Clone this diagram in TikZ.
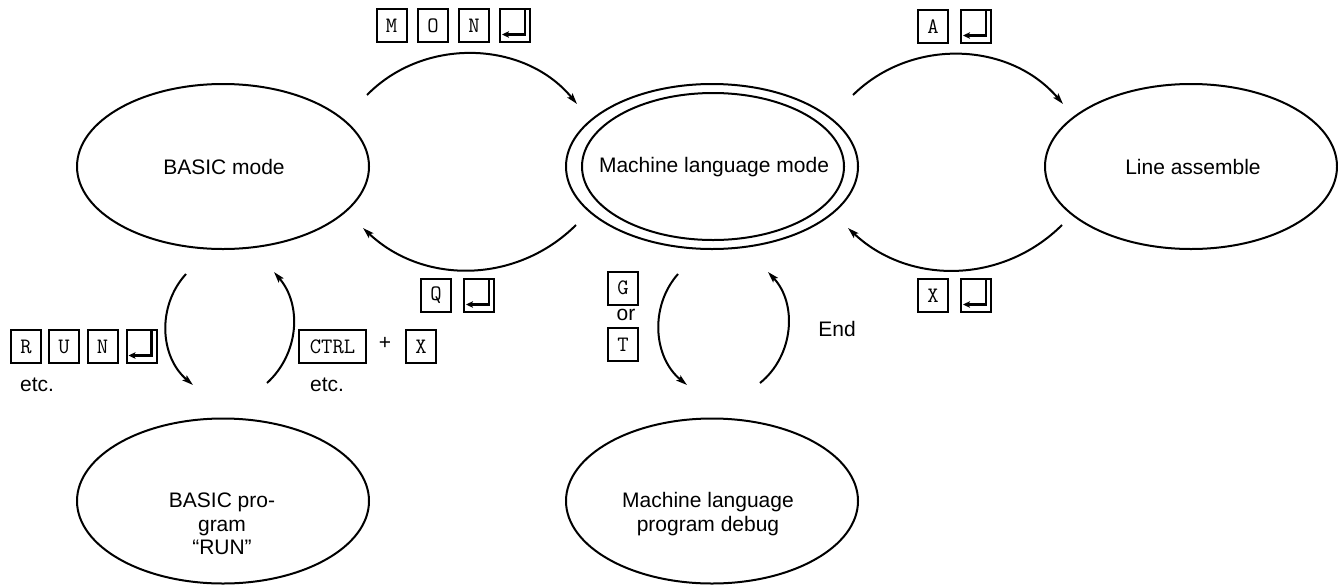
\documentclass[tikz,border=0pt]{standalone}
\usepackage{fontspec}
\setmainfont{Liberation Sans}
\usetikzlibrary{shapes.geometric,arrows.meta}
\tikzset{
  state/.style={ellipse, draw, line width=2pt, minimum width=292pt, minimum height=165pt, inner sep=0pt},
  inner state/.style={ellipse, draw, line width=2pt, minimum width=262pt, minimum height=147pt, inner sep=0pt},
  txt/.style={font=\fontsize{21}{23.5}\selectfont, align=center, inner sep=0pt},
  conn/.style={line width=2pt, -{Stealth[length=11pt,width=6.5pt,inset=2pt]}},
  keybox/.style={draw, line width=2pt, minimum width=30pt, minimum height=33pt, inner sep=0pt,
     font=\ttfamily\fontsize{22}{22}\selectfont},
  widekey/.style={keybox, minimum width=67pt},
  retkey/.style={keybox, path picture={
     \draw[line width=2.2pt, -{Stealth[length=7pt,width=6.5pt,inset=1.5pt]}]
       ([xshift=-5pt]path picture bounding box.north east)
       -- ([xshift=-5pt,yshift=7.5pt]path picture bounding box.south east)
       -- ([xshift=2pt,yshift=7.5pt]path picture bounding box.south west);}}
}
\begin{document}
\begin{tikzpicture}[x=1pt,y=1pt]
\useasboundingbox (0,0) rectangle (1338,-584);
% states
\node[state] (basic) at (223,-166.5) {};
\node[txt] (basictxt) at (224,-167) {BASIC mode};
\node[state] (ml) at (712,-166.5) {};
\node[inner state] (mlin) at (713,-166.5) {};
\node[txt] (mltxt) at (714,-167) {Machine language mode};
\node[state] (la) at (1191,-166.5) {};
\node[txt] (latxt) at (1193,-167) {Line assemble};
\node[state] (bp) at (223,-501) {};
\node[txt] (bptxt) at (222,-524) {BASIC pro-\\gram\\“RUN”};
\node[state] (dbg) at (712,-501) {};
\node[txt] (dbgtxt) at (708,-514) {Machine language\\program debug};
% connector endpoints
\coordinate (mon-s) at (367,-95);  \coordinate (mon-e) at (577,-104);
\coordinate (q-s) at (576,-225);   \coordinate (q-e) at (363,-228);
\coordinate (a-s) at (853,-95);    \coordinate (a-e) at (1063,-104);
\coordinate (x-s) at (1062,-225);  \coordinate (x-e) at (848,-228);
\coordinate (run-s) at (186,-274); \coordinate (run-e) at (193,-385);
\coordinate (ctl-s) at (267,-383); \coordinate (ctl-e) at (274,-272);
\coordinate (g-s) at (678,-274);   \coordinate (g-e) at (687,-385);
\coordinate (end-s) at (760,-383); \coordinate (end-e) at (768,-272);
% connectors
\draw[conn] (mon-s) to[bend left=48] (mon-e);
\draw[conn] (q-s) to[bend left=44] (q-e);
\draw[conn] (a-s) to[bend left=47] (a-e);
\draw[conn] (x-s) to[bend left=44] (x-e);
\draw[conn] (run-s) to[bend right=46] (run-e);
\draw[conn] (ctl-s) to[bend right=44] (ctl-e);
\draw[conn] (g-s) to[bend right=46] (g-e);
\draw[conn] (end-s) to[bend right=47] (end-e);
% keys: MON
\node[keybox] (kM) at (391.5,-25.5) {M};
\node[keybox] (kO) at (433,-25.5) {O};
\node[keybox] (kN) at (474,-25.5) {N};
\node[retkey] (kR1) at (515,-25.5) {};
% A
\node[keybox] (kA) at (933,-26.5) {A};
\node[retkey] (kR2) at (976,-26.5) {};
% X
\node[keybox] (kX) at (933,-295.5) {X};
\node[retkey] (kR3) at (976,-295.5) {};
% Q
\node[keybox] (kQ) at (436,-295.5) {Q};
\node[retkey] (kR4) at (479,-295.5) {};
% RUN
\node[keybox] (kRr) at (26,-346.5) {R};
\node[keybox] (kU) at (64,-346.5) {U};
\node[keybox] (kN2) at (102.5,-346.5) {N};
\node[retkey] (kR5) at (141.5,-346.5) {};
\node[txt] (etc1) at (37,-385) {etc.};
% CTRL + X
\node[widekey] (kC) at (332.5,-346.5) {CTRL};
\node[txt] (plus) at (385,-343) {+};
\node[keybox] (kX2) at (421,-346.5) {X};
\node[txt] (etc2) at (327,-385) {etc.};
% G or T
\node[keybox] (kG) at (623,-288) {G};
\node[txt] (or) at (626,-315) {or};
\node[keybox] (kT) at (623,-344.5) {T};
% End
\node[txt] (endl) at (837,-329) {End};
\end{tikzpicture}
\end{document}
